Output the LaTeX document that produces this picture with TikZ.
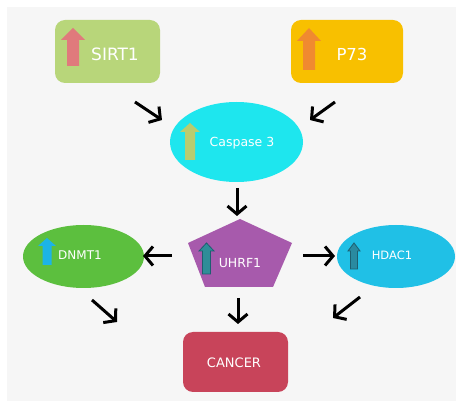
\documentclass[tikz,border=0pt]{standalone}
\usepackage{fontspec}
\setmainfont{DejaVu Sans}
\usetikzlibrary{shapes.geometric,arrows.meta}
\definecolor{bgc}{HTML}{F6F6F6}
\definecolor{sirtc}{HTML}{B8D67A}
\definecolor{p73c}{HTML}{F8C000}
\definecolor{caspc}{HTML}{1EE6EE}
\definecolor{uhrfc}{HTML}{A75AAC}
\definecolor{dnmtc}{HTML}{5CBF3E}
\definecolor{hdacc}{HTML}{20C0E6}
\definecolor{cancc}{HTML}{C8445A}
\definecolor{arrsirt}{HTML}{E07A7C}
\definecolor{arrp73}{HTML}{F08A30}
\definecolor{arrcasp}{HTML}{B8CC70}
\definecolor{arruhrf}{HTML}{2F8D98}
\definecolor{arrdnmt}{HTML}{1CB4E6}
\definecolor{arrhdac}{HTML}{2A8AA0}
\definecolor{arredge}{HTML}{1D5F70}
\newcommand\UpArr[7]{%
  \fill[#1] (#2,#3) -- (#2+#6,#4) -- (#2+#7,#4) -- (#2+#7,#5) -- (#2-#7,#5) -- (#2-#7,#4) -- (#2-#6,#4) -- cycle;}
\newcommand\UpArrD[7]{%
  \filldraw[fill=#1,draw=arredge,line width=0.8pt] (#2,#3) -- (#2+#6,#4) -- (#2+#7,#4) -- (#2+#7,#5) -- (#2-#7,#5) -- (#2-#7,#4) -- (#2-#6,#4) -- cycle;}
\tikzset{
  rbox/.style={rectangle, rounded corners=10pt, inner sep=0pt},
  ell/.style={ellipse, inner sep=0pt},
  lbl/.style={text=white, inner sep=0pt},
  arr/.style={line width=3pt, -{Straight Barb[length=8pt,width=19pt]}},
}
\begin{document}
\begin{tikzpicture}[x=1pt,y=-1pt]
\useasboundingbox (0,0) rectangle (456,403);
\fill[bgc] (7,7) rectangle (456,401);
% shapes
\node[rbox, fill=sirtc, minimum width=105pt, minimum height=63pt] (sirt) at (107.5,51.5) {};
\node[rbox, fill=p73c, minimum width=112pt, minimum height=63pt] (p73) at (347,51.5) {};
\node[ell, fill=caspc, minimum width=133pt, minimum height=80pt] (casp) at (236.5,142) {};
\fill[uhrfc] (240,219) -- (292,243) -- (273,287) -- (205,287) -- (188,243) -- cycle;
\coordinate (uhrf) at (240,256);
\node[ell, fill=dnmtc, minimum width=121pt, minimum height=63pt] (dnmt) at (83.5,256.5) {};
\node[ell, fill=hdacc, minimum width=118pt, minimum height=63pt] (hdac) at (396,256.5) {};
\node[rbox, fill=cancc, minimum width=105pt, minimum height=60pt] (canc) at (235.5,362) {};
% up arrows
\UpArr{arrsirt}{73}{28}{40}{66}{12}{6}
\UpArr{arrp73}{309}{28}{41}{70}{12}{6}
\UpArr{arrcasp}{190}{123}{132}{160}{10}{5}
\UpArrD{arruhrf}{206.5}{243}{251}{274}{7.5}{4}
\UpArr{arrdnmt}{47}{238}{246}{265}{9}{4.5}
\UpArrD{arrhdac}{354}{243}{251}{269}{6}{3.5}
% labels
\node[lbl, font=\fontsize{17}{17}\selectfont] (tsirt) at (115,54) {SIRT1};
\node[lbl, font=\fontsize{16.5}{16.5}\selectfont] (tp73) at (352,54) {P73};
\node[lbl, font=\fontsize{12.5}{12.5}\selectfont] (tcasp) at (242,143) {Caspase 3};
\node[lbl, font=\fontsize{12.5}{12.5}\selectfont] (tuhrf) at (240,263) {UHRF1};
\node[lbl, font=\fontsize{12}{12}\selectfont] (tdnmt) at (80,255) {DNMT1};
\node[lbl, font=\fontsize{11.5}{11.5}\selectfont] (thdac) at (392,255) {HDAC1};
\node[lbl, font=\fontsize{13}{13}\selectfont] (tcanc) at (234,363) {CANCER};
% arrow coordinates
\coordinate (a1s) at (135,102); \coordinate (a1e) at (162,120);
\coordinate (a2s) at (335,102); \coordinate (a2e) at (310,120);
\coordinate (a3s) at (237,188); \coordinate (a3e) at (237,216);
\coordinate (a4s) at (172,256); \coordinate (a4e) at (143,256);
\coordinate (a5s) at (303,256); \coordinate (a5e) at (335,256);
\coordinate (a6s) at (92,300);  \coordinate (a6e) at (117,322);
\coordinate (a7s) at (238,298); \coordinate (a7e) at (238,324);
\coordinate (a8s) at (360,297); \coordinate (a8e) at (333,318);
\foreach \i in {1,...,8} { \draw[arr] (a\i s) -- (a\i e); }
\end{tikzpicture}
\end{document}
